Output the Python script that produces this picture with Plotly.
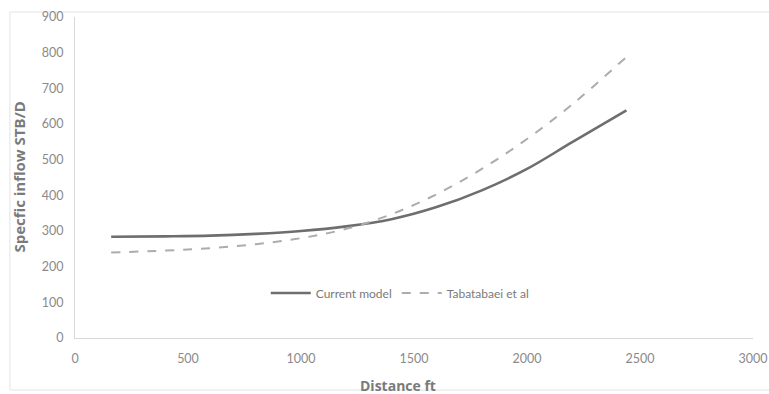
import plotly.graph_objects as go

# Distance along the well (ft) and specific inflow (STB/D)
distance_ft = [160, 400, 600, 800, 1000, 1200, 1400, 1600, 1800, 2000, 2200, 2440]
current_model = [284, 285, 287, 292, 300, 313, 333, 367, 414, 474, 549, 638]
tabatabaei = [240, 245, 252, 263, 280, 306, 347, 403, 474, 558, 655, 788]

x_ticks = [0, 500, 1000, 1500, 2000, 2500, 3000]
y_ticks = [0, 100, 200, 300, 400, 500, 600, 700, 800, 900]

FONT = "Lato, 'Open Sans', sans-serif"
TITLE_FONT = "'Open Sans', Lato, sans-serif"
GREY_TEXT = "#8a8a8a"
TITLE_GREY = "#7a7a7a"
AXIS_LINE = "#d9d9d9"

fig = go.Figure()
fig.add_trace(go.Scatter(
    x=distance_ft, y=current_model, mode="lines", name="Current model",
    line=dict(color="#6e6e6e", width=2.6, shape="spline"),
))
fig.add_trace(go.Scatter(
    x=distance_ft, y=tabatabaei, mode="lines", name="Tabatabaei et al",
    line=dict(color="#acacac", width=2, dash="dash", shape="spline"),
))

fig.update_layout(
    width=769, height=394,
    margin=dict(l=75, r=16, t=17, b=56, autoexpand=False),
    paper_bgcolor="white", plot_bgcolor="white",
    font=dict(family=FONT, size=12, color=GREY_TEXT),
    showlegend=True,
    legend=dict(
        orientation="h", x=0.479, y=0.14, xanchor="center", yanchor="middle",
        bgcolor="rgba(0,0,0,0)", font=dict(size=12, color=TITLE_GREY),
        itemwidth=40,
    ),
    xaxis=dict(
        range=[0, 3000], tickvals=x_ticks, showgrid=False, zeroline=False,
        showline=True, linecolor=AXIS_LINE, linewidth=1, ticks="",
        ticklabelstandoff=9, automargin=False,
        tickfont=dict(size=12.5, color=GREY_TEXT),
    ),
    yaxis=dict(
        range=[0, 900], tickvals=y_ticks, showgrid=False, zeroline=False,
        showline=True, linecolor=AXIS_LINE, linewidth=1, ticks="",
        ticklabelstandoff=8, automargin=False,
        tickfont=dict(size=12.5, color=GREY_TEXT),
    ),
    annotations=[
        dict(text="<b>Distance ft</b>", xref="paper", yref="paper",
             x=0.476, y=-0.148, xanchor="center", yanchor="middle", showarrow=False,
             font=dict(family=TITLE_FONT, size=14, color=TITLE_GREY)),
        dict(text="<b>Specfic inflow STB/D</b>", xref="paper", yref="paper",
             x=-0.084, y=0.5, xanchor="center", yanchor="middle", showarrow=False,
             textangle=-90, font=dict(family=TITLE_FONT, size=15, color=TITLE_GREY)),
    ],
    shapes=[dict(
        type="rect", xref="paper", yref="paper",
        x0=-0.096, x1=1.03, y0=-0.162, y1=1.0156,
        line=dict(color="#e3e3e3", width=1), fillcolor="rgba(0,0,0,0)", layer="below",
    )],
)

fig.write_html("out.html")
